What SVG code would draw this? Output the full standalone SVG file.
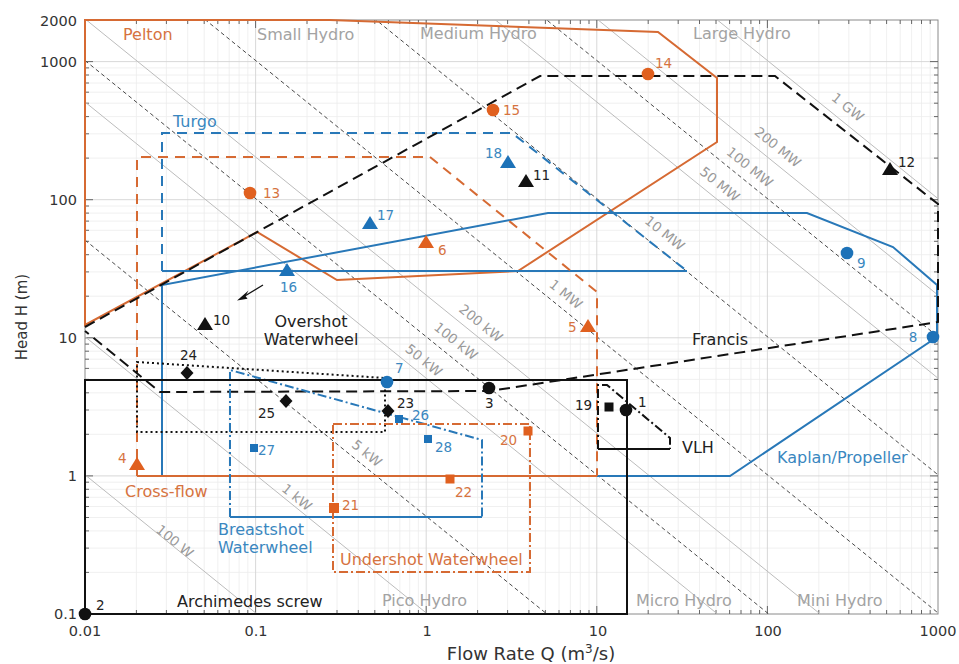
<svg xmlns="http://www.w3.org/2000/svg" width="959" height="664" viewBox="0 0 959 664">
<defs>
<clipPath id="plot"><rect x="85" y="20" width="853" height="594"/></clipPath>
<style>
.gmin{stroke:#ececec;stroke-width:0.8;fill:none}
.gmaj{stroke:#d4d4d4;stroke-width:0.9;fill:none}
.pws{stroke:#bcbcbc;stroke-width:1;fill:none}
.pwd{stroke:#4a4a4a;stroke-width:1;stroke-dasharray:4 3;fill:none}
.pwl{font-family:"DejaVu Sans",sans-serif;font-size:13.5px;fill:#999;text-anchor:middle}
.rgl{font-family:"DejaVu Sans",sans-serif;font-size:16px;fill:#a3a3a3}
.lab{font-family:"DejaVu Sans",sans-serif;font-size:16px}
.num{font-family:"DejaVu Sans",sans-serif;font-size:13.5px}
.tick{font-family:"DejaVu Sans",sans-serif;font-size:14.5px;fill:#333}
.ttl{font-family:"DejaVu Sans",sans-serif;fill:#333}
.or{stroke:#D66A33;fill:none;stroke-width:2}
.bl{stroke:#2878B8;fill:none;stroke-width:2}
.bk{stroke:#111;fill:none;stroke-width:2}
.dash{stroke-dasharray:10 7}
.dot{stroke-dasharray:2 3}
.dd{stroke-dasharray:9 3 2 3}
.fo{fill:#E0601F}
.fb{fill:#1D72B8}
.fk{fill:#111}
.to{fill:#D6733F}
.tb{fill:#3A87C0}
.tk{fill:#222}
</style>
</defs>
<rect width="959" height="664" fill="#fff"/>
<g id="grid">
<path class="gmin" d="M136.4,20V614M166.4,20V614M187.7,20V614M204.2,20V614M217.8,20V614M229.2,20V614M239.1,20V614M247.8,20V614M307,20V614M337,20V614M358.3,20V614M374.8,20V614M388.4,20V614M399.8,20V614M409.7,20V614M418.4,20V614M477.6,20V614M507.6,20V614M528.9,20V614M545.4,20V614M559,20V614M570.4,20V614M580.3,20V614M589,20V614M648.2,20V614M678.2,20V614M699.5,20V614M716,20V614M729.6,20V614M741,20V614M750.9,20V614M759.6,20V614M818.8,20V614M848.8,20V614M870.1,20V614M886.6,20V614M900.2,20V614M911.6,20V614M921.5,20V614M930.2,20V614"/>
<path class="gmin" d="M85,572.4H938M85,548.1H938M85,530.9H938M85,517.5H938M85,506.5H938M85,497.3H938M85,489.3H938M85,482.2H938M85,434.3H938M85,410H938M85,392.8H938M85,379.4H938M85,368.4H938M85,359.2H938M85,351.2H938M85,344.1H938M85,296.2H938M85,271.9H938M85,254.7H938M85,241.3H938M85,230.3H938M85,221.1H938M85,213.1H938M85,206H938M85,158.1H938M85,133.8H938M85,116.6H938M85,103.2H938M85,92.2H938M85,83H938M85,75H938M85,67.9H938"/>
<path class="gmaj" d="M255.6,20V614M426.2,20V614M596.8,20V614M767.4,20V614M85,475.9H938M85,337.8H938M85,199.7H938M85,61.6H938"/>
</g>
<g id="axes-frame">
<rect x="85" y="20" width="853" height="594" fill="none" stroke="#8a8a8a" stroke-width="1"/>
<path stroke="#666" stroke-width="1" fill="none" d="M85,572.4h4M85,548.1h4M85,530.9h4M85,517.5h4M85,506.5h4M85,497.3h4M85,489.3h4M85,482.2h4M85,434.3h4M85,410h4M85,392.8h4M85,379.4h4M85,368.4h4M85,359.2h4M85,351.2h4M85,344.1h4M85,296.2h4M85,271.9h4M85,254.7h4M85,241.3h4M85,230.3h4M85,221.1h4M85,213.1h4M85,206h4M85,158.1h4M85,133.8h4M85,116.6h4M85,103.2h4M85,92.2h4M85,83h4M85,75h4M85,67.9h4M85,475.9h8M85,337.8h8M85,199.7h8M85,61.6h8M938,572.4h-4M938,548.1h-4M938,530.9h-4M938,517.5h-4M938,506.5h-4M938,497.3h-4M938,489.3h-4M938,482.2h-4M938,434.3h-4M938,410h-4M938,392.8h-4M938,379.4h-4M938,368.4h-4M938,359.2h-4M938,351.2h-4M938,344.1h-4M938,296.2h-4M938,271.9h-4M938,254.7h-4M938,241.3h-4M938,230.3h-4M938,221.1h-4M938,213.1h-4M938,206h-4M938,158.1h-4M938,133.8h-4M938,116.6h-4M938,103.2h-4M938,92.2h-4M938,83h-4M938,75h-4M938,67.9h-4M938,475.9h-8M938,337.8h-8M938,199.7h-8M938,61.6h-8"/>
<path stroke="#666" stroke-width="1" fill="none" d="M136.4,614v-4M166.4,614v-4M187.7,614v-4M204.2,614v-4M217.8,614v-4M229.2,614v-4M239.1,614v-4M247.8,614v-4M307,614v-4M337,614v-4M358.3,614v-4M374.8,614v-4M388.4,614v-4M399.8,614v-4M409.7,614v-4M418.4,614v-4M477.6,614v-4M507.6,614v-4M528.9,614v-4M545.4,614v-4M559,614v-4M570.4,614v-4M580.3,614v-4M589,614v-4M648.2,614v-4M678.2,614v-4M699.5,614v-4M716,614v-4M729.6,614v-4M741,614v-4M750.9,614v-4M759.6,614v-4M818.8,614v-4M848.8,614v-4M870.1,614v-4M886.6,614v-4M900.2,614v-4M911.6,614v-4M921.5,614v-4M930.2,614v-4M255.6,614v-8M426.2,614v-8M596.8,614v-8M767.4,614v-8M136.4,20v4M166.4,20v4M187.7,20v4M204.2,20v4M217.8,20v4M229.2,20v4M239.1,20v4M247.8,20v4M307,20v4M337,20v4M358.3,20v4M374.8,20v4M388.4,20v4M399.8,20v4M409.7,20v4M418.4,20v4M477.6,20v4M507.6,20v4M528.9,20v4M545.4,20v4M559,20v4M570.4,20v4M580.3,20v4M589,20v4M648.2,20v4M678.2,20v4M699.5,20v4M716,20v4M729.6,20v4M741,20v4M750.9,20v4M759.6,20v4M818.8,20v4M848.8,20v4M870.1,20v4M886.6,20v4M900.2,20v4M911.6,20v4M921.5,20v4M930.2,20v4M255.6,20v8M426.2,20v8M596.8,20v8M767.4,20v8"/>
</g>
<g id="power-lines" clip-path="url(#plot)">
<line class="pws" x1="85" y1="474.8" x2="938" y2="1165.3"/>
<line class="pws" x1="85" y1="336.7" x2="938" y2="1027.2"/>
<line class="pws" x1="85" y1="102" x2="938" y2="792.5"/>
<line class="pws" x1="85" y1="18.9" x2="938" y2="709.4"/>
<line class="pws" x1="85" y1="-312.3" x2="938" y2="378.2"/>
<line class="pws" x1="85" y1="-395.4" x2="938" y2="295.1"/>
<line class="pws" x1="85" y1="-491.9" x2="938" y2="198.6"/>
<line class="pwd" x1="85" y1="240.1" x2="938" y2="930.6"/>
<line class="pwd" x1="85" y1="60.5" x2="938" y2="751"/>
<line class="pwd" x1="85" y1="-77.6" x2="938" y2="612.9"/>
<line class="pwd" x1="85" y1="-215.7" x2="938" y2="474.8"/>
<line class="pwd" x1="85" y1="-353.8" x2="938" y2="336.7"/>
</g>
<g id="power-labels">
<text class="pwl" transform="translate(175,541) rotate(39)" dy="5">100 W</text>
<text class="pwl" transform="translate(297,497) rotate(39)" dy="5">1 kW</text>
<text class="pwl" transform="translate(367,453) rotate(39)" dy="5">5 kW</text>
<text class="pwl" transform="translate(424,360) rotate(39)" dy="5">50 kW</text>
<text class="pwl" transform="translate(456,341) rotate(39)" dy="5">100 kW</text>
<text class="pwl" transform="translate(481,323) rotate(39)" dy="5">200 kW</text>
<text class="pwl" transform="translate(566,294) rotate(39)" dy="5">1 MW</text>
<text class="pwl" transform="translate(665,233) rotate(39)" dy="5">10 MW</text>
<text class="pwl" transform="translate(720,184) rotate(39)" dy="5">50 MW</text>
<text class="pwl" transform="translate(750,167) rotate(39)" dy="5">100 MW</text>
<text class="pwl" transform="translate(778,147) rotate(39)" dy="5">200 MW</text>
<text class="pwl" transform="translate(848,107) rotate(39)" dy="5">1 GW</text>
</g>
<g id="size-classes">
<text class="rgl" x="257" y="40">Small Hydro</text>
<text class="rgl" x="420" y="39">Medium Hydro</text>
<text class="rgl" x="693" y="39">Large Hydro</text>
<text class="rgl" x="382" y="606">Pico Hydro</text>
<text class="rgl" x="636" y="606">Micro Hydro</text>
<text class="rgl" x="797" y="606">Mini Hydro</text>
</g>
<g id="regions">
<g id="pelton"><path class="or" d="M85,325 L85,20 L330,20 L658,32 L717,78 L717,142 L518,271 L337,280 L257,232 Z"/><text class="lab to" x="123" y="40">Pelton</text></g>
<g id="kaplan"><path class="bl" d="M162,476 L162,285 L548,213 L807,213 L893,247 L937,285 L937,337 L730,476 Z"/><text class="lab tb" x="777" y="463">Kaplan/Propeller</text></g>
<g id="turgo"><path class="bl dash" d="M162,271 L162,133 L512,133 L687,271"/><path class="bl" d="M162,271 H687"/><text class="lab tb" x="173" y="127">Turgo</text></g>
<g id="crossflow"><path class="or dash" d="M137,476 L137,157 L430,157 L597,292 L597,476"/><path class="or" d="M137,476 H597"/><text class="lab to" x="125" y="497">Cross-flow</text></g>
<g id="francis"><path class="bk" stroke-width="2.2" stroke-dasharray="11 6" d="M85,327 L540,76 L775,76 L938,204 L938,322 L490,391 L160,392 L85,331"/><text class="lab tk" x="692" y="345">Francis</text></g>
<g id="overshot"><path class="bk dot" d="M137,362 L385,378 L385,432 L137,432 Z"/><text class="lab tk" x="311" y="327" text-anchor="middle">Overshot</text><text class="lab tk" x="311" y="345" text-anchor="middle">Waterwheel</text></g>
<g id="breastshot"><path class="bl dd" d="M230,517 L230,370 L482,440 L482,517"/><path class="bl" d="M230,517 H482"/><text class="lab tb" x="218" y="535">Breastshot</text><text class="lab tb" x="218" y="553">Waterwheel</text></g>
<g id="undershot"><path class="or dd" d="M333,424 H530 V572 H333 Z"/><text class="lab to" x="340" y="565">Undershot Waterwheel</text></g>
<g id="archimedes"><path class="bk" stroke-width="2.2" d="M85,380 H627 V614 H85 Z"/><text class="lab tk" x="177" y="607">Archimedes screw</text></g>
<g id="vlh"><path class="bk dd" d="M598,449 L598,385 L607,385 L670,438 L670,449"/><path class="bk" d="M598,449 H670"/><text class="lab tk" x="682" y="453">VLH</text></g>
</g>
<g id="connectors">
<line x1="263" y1="285" x2="244" y2="296.5" stroke="#111" stroke-width="1.3"/>
<polygon points="237,300.5 248.5,290.5 245.5,296 247.5,298.8" fill="#111"/>
</g>
<g id="markers">
<g id="p1"><circle class="fk" cx="626" cy="410" r="6.3"/><text class="num tk" x="638" y="407">1</text></g>
<g id="p2"><circle class="fk" cx="85" cy="614" r="6.3"/><text class="num tk" x="96" y="610">2</text></g>
<g id="p3"><circle class="fk" cx="489" cy="388" r="6.3"/><text class="num tk" x="485" y="408">3</text></g>
<g id="p4"><polygon class="fo" points="137,457 129,470 145,470"/><text class="num to" x="118" y="463">4</text></g>
<g id="p5"><polygon class="fo" points="588,319 580,332 596,332"/><text class="num to" x="568" y="332">5</text></g>
<g id="p6"><polygon class="fo" points="426,235 418,248 434,248"/><text class="num to" x="438" y="255">6</text></g>
<g id="p7"><circle class="fb" cx="387" cy="382" r="6.3"/><text class="num tb" x="395" y="373">7</text></g>
<g id="p8"><circle class="fb" cx="933" cy="337" r="6.3"/><text class="num tb" x="913" y="342" text-anchor="middle">8</text></g>
<g id="p9"><circle class="fb" cx="847" cy="253" r="6.3"/><text class="num tb" x="857" y="268">9</text></g>
<g id="p10"><polygon class="fk" points="205,317 197,330 213,330"/><text class="num tk" x="213" y="325">10</text></g>
<g id="p11"><polygon class="fk" points="526,174 518,187 534,187"/><text class="num tk" x="533" y="180">11</text></g>
<g id="p12"><polygon class="fk" points="890,162 882,175 898,175"/><text class="num tk" x="898" y="167">12</text></g>
<g id="p13"><circle class="fo" cx="250" cy="193" r="6.3"/><text class="num to" x="263" y="198">13</text></g>
<g id="p14"><circle class="fo" cx="648" cy="74" r="6.3"/><text class="num to" x="655" y="68">14</text></g>
<g id="p15"><circle class="fo" cx="493" cy="110" r="6.3"/><text class="num to" x="503" y="115">15</text></g>
<g id="p16"><polygon class="fb" points="287,263 279,276 295,276"/><text class="num tb" x="280" y="292">16</text></g>
<g id="p17"><polygon class="fb" points="370,216 362,229 378,229"/><text class="num tb" x="377" y="220">17</text></g>
<g id="p18"><polygon class="fb" points="508,155 500,168 516,168"/><text class="num tb" x="485" y="158">18</text></g>
<g id="p19"><rect class="fk" x="604.5" y="402.5" width="9" height="9"/><text class="num tk" x="575" y="410">19</text></g>
<g id="p20"><rect class="fo" x="523.5" y="426.5" width="9" height="9"/><text class="num to" x="500" y="445">20</text></g>
<g id="p21"><rect class="fo" x="329" y="503" width="10" height="10"/><text class="num to" x="342" y="510">21</text></g>
<g id="p22"><rect class="fo" x="445.5" y="474.5" width="9" height="9"/><text class="num to" x="455" y="497">22</text></g>
<g id="p23"><polygon class="fk" points="388,404 394.5,411 388,418 381.5,411"/><text class="num tk" x="397" y="408">23</text></g>
<g id="p24"><polygon class="fk" points="187,366 193.5,373 187,380 180.5,373"/><text class="num tk" x="180" y="360">24</text></g>
<g id="p25"><polygon class="fk" points="286,394 292.5,401 286,408 279.5,401"/><text class="num tk" x="258" y="418">25</text></g>
<g id="p26"><rect class="fb" x="395" y="415" width="8" height="8"/><text class="num tb" x="412" y="420">26</text></g>
<g id="p27"><rect class="fb" x="250" y="444" width="8" height="8"/><text class="num tb" x="258" y="455">27</text></g>
<g id="p28"><rect class="fb" x="424" y="435" width="8" height="8"/><text class="num tb" x="435" y="452">28</text></g>
</g>
<g id="axis-labels">
<text class="tick" x="77" y="26" text-anchor="end">2000</text>
<text class="tick" x="77" y="67" text-anchor="end">1000</text>
<text class="tick" x="77" y="205" text-anchor="end">100</text>
<text class="tick" x="77" y="343" text-anchor="end">10</text>
<text class="tick" x="77" y="481" text-anchor="end">1</text>
<text class="tick" x="77" y="619" text-anchor="end">0.1</text>
<text class="tick" x="85" y="636" text-anchor="middle">0.01</text>
<text class="tick" x="256" y="636" text-anchor="middle">0.1</text>
<text class="tick" x="427" y="636" text-anchor="middle">1</text>
<text class="tick" x="598" y="636" text-anchor="middle">10</text>
<text class="tick" x="768" y="636" text-anchor="middle">100</text>
<text class="tick" x="938" y="636" text-anchor="middle">1000</text>
<text class="ttl" x="531" y="660" font-size="18" text-anchor="middle">Flow Rate Q (m<tspan dy="-7" font-size="12">3</tspan><tspan dy="7">/s)</tspan></text>
<text class="ttl" transform="translate(27,317) rotate(-90)" font-size="15" text-anchor="middle">Head H (m)</text>
</g>
</svg>
